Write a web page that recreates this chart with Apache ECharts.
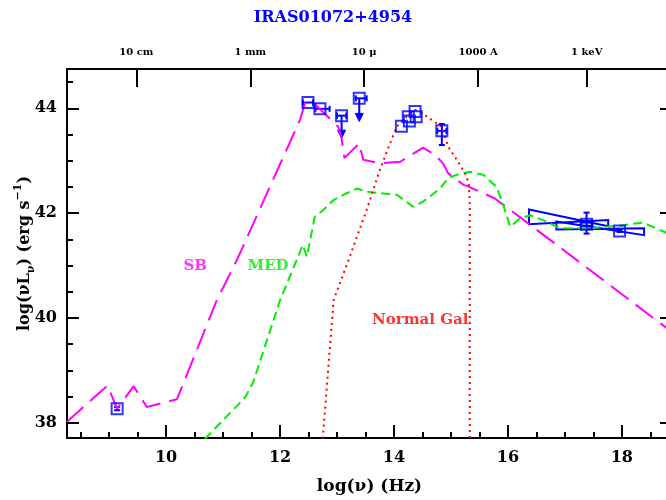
<!DOCTYPE html>
<html>
<head>
<meta charset="utf-8">
<script src="https://cdn.jsdelivr.net/npm/echarts@6/dist/echarts.min.js"></script>
<style>html,body{margin:0;padding:0;background:#fff}#c{width:666px;height:500px}</style>
</head>
<body>
<div id="c"></div>
<script>
// ---- data ----
const sbModel = [[8.26,38.02],[8.97,38.71],[9.14,38.27],[9.43,38.70],[9.66,38.30],[10.19,38.45],[10.89,40.34],[11.24,41.10],[11.82,42.50],[12.35,43.78],[12.44,44.11],[12.58,44.11],[13.02,43.65],[13.08,43.43],[13.13,43.05],[13.39,43.33],[13.46,43.02],[13.75,42.95],[14.11,42.98],[14.51,43.25],[14.72,43.11],[14.86,42.95],[14.95,42.76],[15.22,42.54],[15.28,42.52],[15.77,42.28],[16.24,41.90],[18.88,39.73]];
const medModel = [[10.68,37.69],[11.39,38.49],[11.53,38.78],[12.0,40.34],[12.40,41.39],[12.47,41.17],[12.61,41.93],[12.76,42.06],[12.94,42.25],[13.17,42.38],[13.35,42.47],[13.52,42.41],[13.87,42.37],[14.05,42.35],[14.34,42.12],[14.51,42.22],[14.81,42.47],[14.95,42.67],[15.10,42.73],[15.33,42.79],[15.57,42.73],[15.80,42.50],[15.92,42.15],[16.04,41.74],[16.21,41.90],[16.39,41.96],[16.68,41.84],[16.91,41.71],[17.44,41.71],[18.02,41.77],[18.37,41.82],[18.75,41.64],[18.88,41.60]];
const normalModel = [[12.75,37.70],[12.94,40.34],[13.20,41.10],[13.52,42.06],[13.75,42.82],[13.93,43.33],[14.05,43.65],[14.22,43.84],[14.37,43.97],[14.49,43.91],[14.66,43.78],[14.84,43.65],[14.95,43.27],[15.10,43.02],[15.25,42.76],[15.31,42.57],[15.33,42.20],[15.33,37.70]];
const obsPoints = [[9.14,38.27],[12.49,44.11],[12.70,43.99],[13.08,43.86],[13.39,44.19],[14.13,43.66],[14.25,43.84],[14.27,43.76],[14.37,43.94],[14.39,43.84],[14.84,43.57],[17.38,41.79],[17.96,41.66]];
// [x, y, yLimit]
const upperLimits = [[13.08,43.86,43.43],[13.39,44.19,43.75]];
// [x, yLow, yHigh]
const yErrors = [[9.14,38.24,38.30],[14.84,43.30,43.70],[17.38,41.61,42.01],[17.96,41.64,41.68]];
// [xLow, xHigh, y]
const xErrors = [[12.40,12.58,44.11],[12.62,12.87,43.99],[13.00,13.16,43.86],[13.33,13.52,44.19],[14.76,14.92,43.57],[17.28,17.48,41.76],[17.28,17.48,41.82]];
// [x1, top1, bottom1, x2, top2, bottom2]
const bowties = [[16.37,42.07,41.79,17.76,41.87,41.75],[16.85,41.84,41.69,18.39,41.71,41.58]];
const xTickValues = [10,12,14,16,18];
const xMinorValues = [8.5,9,9.5,10.5,11,11.5,12.5,13,13.5,14.5,15,15.5,16.5,17,17.5,18.5];
const yTickValues = [38,40,42,44];
const yMinorValues = [38.5,39,39.5,40.5,41,41.5,42.5,43,43.5,44.5];
const topTickValues = [9.477,11.477,13.477,15.477,17.383];
const topTickLabels = ['10 cm','1 mm','10 \u03bc','1000 A','1 keV'];
const annotTexts = ['SB','MED','Normal Gal'];
const annotX = [10.51,11.79,14.46];
const annotY = [40.99,40.99,39.96];

// ---- chart ----
const X_MIN = 8.26, X_MAX = 18.88, Y_MIN = 37.71, Y_MAX = 44.75;
const FONT = 'DejaVu Serif';
const blue = '#0000ff';
const chart = echarts.init(document.getElementById('c'), null, {renderer:'canvas'});

function xAxisBase(extra){
  return Object.assign({type:'value', min:X_MIN, max:X_MAX, gridIndex:0, splitLine:{show:false},
    axisLine:{show:false, lineStyle:{color:'#000', width:2}}, axisTick:{show:false}, axisLabel:{show:false}}, extra);
}
function yAxisBase(extra){
  return Object.assign({type:'value', min:Y_MIN, max:Y_MAX, gridIndex:0, splitLine:{show:false},
    axisLine:{show:false, lineStyle:{color:'#000', width:2}}, axisTick:{show:false}, axisLabel:{show:false}}, extra);
}

const annotColors = ['#ff00ff','#00ee00','#ff0000'];

const option = {
  animation:false,
  backgroundColor:'#fff',
  title:{text:'IRAS01072+4954', left:'center', top:5,
    textStyle:{color:blue, fontFamily:FONT, fontWeight:'bold', fontSize:16}},
  grid:{left:67, top:69, width:605, height:369, containLabel:false, outerBoundsMode:'none'},
  xAxis:[
    xAxisBase({position:'bottom', axisLine:{show:true, onZero:false, lineStyle:{color:'#000', width:2}},
      axisTick:{show:true, inside:true, length:13, customValues:xTickValues, lineStyle:{color:'#000', width:2}},
      axisLabel:{show:true, customValues:xTickValues, margin:12, color:'#000', fontFamily:FONT, fontWeight:'bold', fontSize:16},
      name:'log(\u03bd) (Hz)', nameLocation:'middle', nameGap:40, nameMoveOverlap:false,
      nameTextStyle:{color:'#000', fontFamily:FONT, fontWeight:'bold', fontSize:17}}),
    xAxisBase({position:'bottom',
      axisTick:{show:true, inside:true, length:6, customValues:xMinorValues, lineStyle:{color:'#000', width:2}}}),
    xAxisBase({position:'top', axisLine:{show:true, onZero:false, lineStyle:{color:'#000', width:2}},
      axisTick:{show:true, inside:true, length:18, customValues:topTickValues, lineStyle:{color:'#000', width:2}},
      axisLabel:{show:true, customValues:topTickValues, margin:12, color:'#000', fontFamily:FONT, fontWeight:'bold', fontSize:10,
        formatter:function(v){ let best=0; for(let i=1;i<topTickValues.length;i++){ if(Math.abs(topTickValues[i]-v)<Math.abs(topTickValues[best]-v)) best=i;} return topTickLabels[best]; }}})
  ],
  yAxis:[
    yAxisBase({position:'left', axisLine:{show:true, onZero:false, lineStyle:{color:'#000', width:2}},
      axisTick:{show:true, inside:true, length:12, customValues:yTickValues, lineStyle:{color:'#000', width:2}},
      axisLabel:{show:true, customValues:yTickValues, margin:10, color:'#000', fontFamily:FONT, fontWeight:'bold', fontSize:16},
      name:'{a|log(\u03bdL}{s|\u03bd}{a|) (erg s}{p|\u22121}{a|)}', nameLocation:'middle', nameGap:30, nameRotate:90, nameMoveOverlap:false,
      nameTextStyle:{color:'#000', rich:{
        a:{fontFamily:FONT, fontWeight:'bold', fontSize:16, lineHeight:24, color:'#000'},
        s:{fontFamily:FONT, fontWeight:'bold', fontSize:11, verticalAlign:'bottom', color:'#000'},
        p:{fontFamily:FONT, fontWeight:'bold', fontSize:11, verticalAlign:'top', color:'#000'}}}}),
    yAxisBase({position:'left',
      axisTick:{show:true, inside:true, length:6, customValues:yMinorValues, lineStyle:{color:'#000', width:2}}}),
    yAxisBase({position:'right', axisLine:{show:true, onZero:false, lineStyle:{color:'#000', width:2}},
      axisTick:{show:true, inside:true, length:12, customValues:yTickValues, lineStyle:{color:'#000', width:2}}}),
    yAxisBase({position:'right',
      axisTick:{show:true, inside:true, length:6, customValues:yMinorValues, lineStyle:{color:'#000', width:2}}})
  ],
  series:[
    {type:'line', name:'SB', data:sbModel, xAxisIndex:0, yAxisIndex:0, symbol:'none', clip:true,
      lineStyle:{color:'#ff00ff', width:2, type:[22,9]}},
    {type:'line', name:'MED', data:medModel, xAxisIndex:0, yAxisIndex:0, symbol:'none', clip:true,
      lineStyle:{color:'#00ee00', width:2, type:[9,5]}},
    {type:'line', name:'Normal Gal', data:normalModel, xAxisIndex:0, yAxisIndex:0, symbol:'none', clip:true,
      lineStyle:{color:'#ff0000', width:2, type:[2,4]}},
    {type:'custom', name:'bowties', xAxisIndex:0, yAxisIndex:0, data:bowties, clip:true,
      encode:{x:[0,3], y:[1,2,4,5]},
      renderItem:function(params, api){
        const a = api.coord([api.value(0), api.value(1)]);
        const b = api.coord([api.value(3), api.value(5)]);
        const c = api.coord([api.value(3), api.value(4)]);
        const d = api.coord([api.value(0), api.value(2)]);
        return {type:'polygon', shape:{points:[a,b,c,d]}, style:{fill:'none', stroke:blue, lineWidth:2}};
      }},
    {type:'custom', name:'yerr', xAxisIndex:0, yAxisIndex:0, data:yErrors, clip:true,
      encode:{x:0, y:[1,2]},
      renderItem:function(params, api){
        const p1 = api.coord([api.value(0), api.value(1)]);
        const p2 = api.coord([api.value(0), api.value(2)]);
        const s = {stroke:blue, lineWidth:2};
        return {type:'group', children:[
          {type:'line', shape:{x1:p1[0], y1:p1[1], x2:p2[0], y2:p2[1]}, style:s},
          {type:'line', shape:{x1:p1[0]-3, y1:p1[1], x2:p1[0]+3, y2:p1[1]}, style:s},
          {type:'line', shape:{x1:p2[0]-3, y1:p2[1], x2:p2[0]+3, y2:p2[1]}, style:s}]};
      }},
    {type:'custom', name:'xerr', xAxisIndex:0, yAxisIndex:0, data:xErrors, clip:true,
      encode:{x:[0,1], y:2},
      renderItem:function(params, api){
        const p1 = api.coord([api.value(0), api.value(2)]);
        const p2 = api.coord([api.value(1), api.value(2)]);
        const s = {stroke:blue, lineWidth:2};
        return {type:'group', children:[
          {type:'line', shape:{x1:p1[0], y1:p1[1], x2:p2[0], y2:p2[1]}, style:s},
          {type:'line', shape:{x1:p1[0], y1:p1[1]-3, x2:p1[0], y2:p1[1]+3}, style:s},
          {type:'line', shape:{x1:p2[0], y1:p2[1]-3, x2:p2[0], y2:p2[1]+3}, style:s}]};
      }},
    {type:'custom', name:'limits', xAxisIndex:0, yAxisIndex:0, data:upperLimits, clip:true,
      encode:{x:0, y:[1,2]},
      renderItem:function(params, api){
        const p1 = api.coord([api.value(0), api.value(1)]);
        const p2 = api.coord([api.value(0), api.value(2)]);
        return {type:'group', children:[
          {type:'line', shape:{x1:p1[0], y1:p1[1], x2:p2[0], y2:p2[1]-6}, style:{stroke:blue, lineWidth:2}},
          {type:'polygon', shape:{points:[[p2[0]-4,p2[1]-8],[p2[0]+4,p2[1]-8],[p2[0],p2[1]]]}, style:{fill:blue, stroke:blue, lineWidth:1}}]};
      }},
    {type:'scatter', name:'obs', data:obsPoints, xAxisIndex:0, yAxisIndex:0, symbol:'rect', symbolSize:11,
      itemStyle:{color:'rgba(255,255,255,0)', borderColor:blue, borderWidth:2}, z:5},
    {type:'scatter', name:'annotations', xAxisIndex:0, yAxisIndex:0, symbolSize:0, silent:true,
      data:annotTexts.map(function(t,i){ return {name:t, value:[annotX[i], annotY[i]],
        label:{color:annotColors[i]}}; }),
      label:{show:true, position:'inside', formatter:'{b}', fontFamily:FONT, fontWeight:'bold', fontSize:15}}
  ]
};
chart.setOption(option);
</script>
</body>
</html>
